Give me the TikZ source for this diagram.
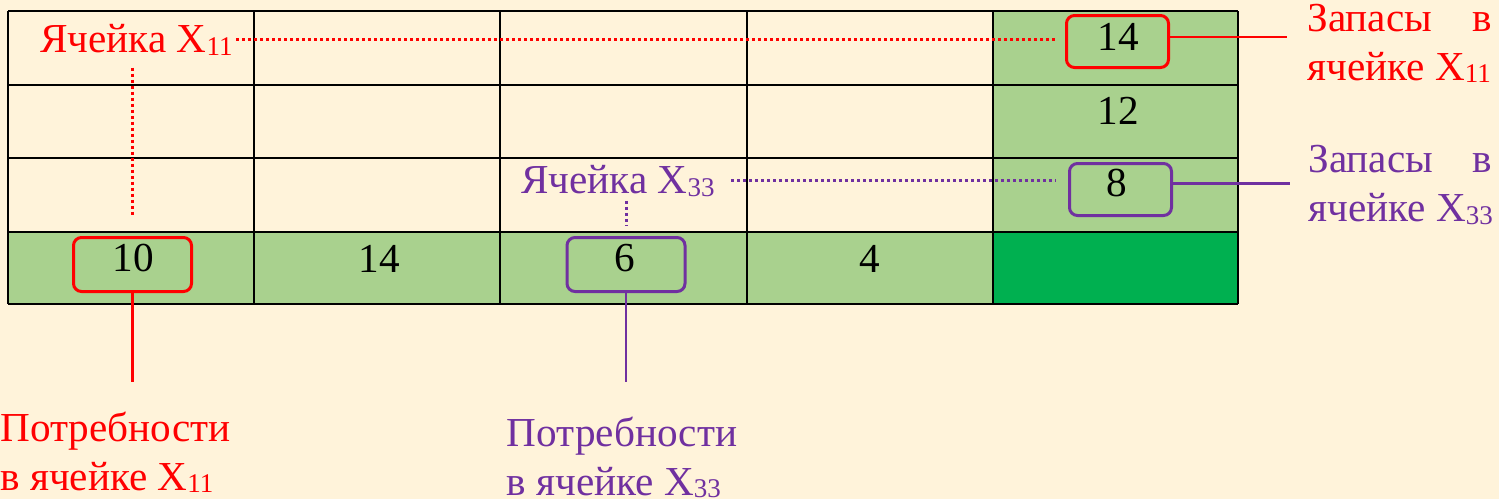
\documentclass[tikz,border=0pt]{standalone}
\usepackage{fontspec}
\setmainfont{Liberation Serif}
\usepackage{tikz}
\usetikzlibrary{positioning}

\definecolor{cream}{HTML}{FFF3DA}
\definecolor{lgreen}{HTML}{A9D18E}
\definecolor{dgreen}{HTML}{00B050}
\definecolor{purp}{HTML}{7030A0}

\newcommand\idx[1]{\raisebox{-1.4pt}{\fontsize{13.5pt}{14pt}\selectfont #1}}

\tikzset{
	txt/.style={font=\fontsize{20.6pt}{24.5pt}\selectfont, inner sep=0pt},
	rbox/.style={draw, line width=1.5pt, rounded corners=4pt, inner sep=0pt,
		minimum width=51pt, minimum height=26pt},
	bbox/.style={draw, line width=1.5pt, rounded corners=4pt, inner sep=0pt,
		minimum width=59pt, minimum height=27pt},
	dots/.style={line width=1.5pt, dash pattern=on 1.5pt off 1.5pt},
	lead/.style={line width=1.3pt},
	grid/.style={line width=0.7pt},
}

\begin{document}
\begin{tikzpicture}[x=0.5pt, y=-0.5pt]
		\useasboundingbox (0,0) rectangle (1499,499);
		\fill[cream] (0,0) rectangle (1499,499);

		% table
		\fill[lgreen] (993,11) rectangle (1238,232);
		\fill[lgreen] (8,232) rectangle (993,304);
		\fill[dgreen] (993,232) rectangle (1238,304);
		\foreach \x in {8,254,500,747,993,1238}
			\draw[grid] (\x,11) -- (\x,304);
		\foreach \y in {11,85,158,232,304}
			\draw[grid] (8,\y) -- (1238,\y);

		\node[txt, anchor=base] (s1) at (1118,50.7) {14};
		\node[txt, anchor=base] (s2) at (1118,124.3) {12};
		\node[txt, anchor=base] (s3) at (1117,196.7) {8};
		\node[txt, anchor=base] (d1) at (133.5,271.7) {10};
		\node[txt, anchor=base] (d2) at (379.5,272) {14};
		\node[txt, anchor=base] (d3) at (624.5,271.7) {6};
		\node[txt, anchor=base] (d4) at (870,272.5) {4};

		\node[rbox, red] (bs1) at (1117.5,41.5) {};
		\node[rbox, purp] (bs3) at (1120.5,189.5) {};
		\node[bbox, red] (bd1) at (132.5,264.5) {};
		\node[bbox, purp] (bd3) at (626,264.5) {};

		% labels (base = last line)
		\node[txt, red, anchor=base west] (c11) at (40,52.3) {Ячейка X\idx{11}};
		\node[txt, purp, anchor=base west] (c33) at (521,193.3) {Ячейка X\idx{33}};
		\node[txt, red, anchor=base west, align=left] (z11) at (1307,80)
			{\hbox to 92.5pt{Запасы\hfill в}\\ячейке X\idx{11}};
		\node[txt, purp, anchor=base west, align=left] (z33) at (1308,221.7)
			{\hbox to 92pt{Запасы\hfill в}\\ячейке X\idx{33}};
		\node[txt, red, anchor=base west, align=left] (p11) at (0,490)
			{Потребности\\в ячейке X\idx{11}};
		\node[txt, purp, anchor=base west, align=left] (p33) at (506.5,495)
			{Потребности\\в ячейке X\idx{33}};

		\coordinate (e11) at (1287,0);
		\coordinate (e33) at (1290,0);
		\coordinate (f11) at (0,382);
		\coordinate (f33) at (0,382);

		% connectors
		\draw[dots, red] ([xshift=1.5pt]c11.east) -- ([xshift=-5pt]bs1.west |- c11.east);
		\draw[dots, red] ([yshift=-6pt]bd1.north |- c11.south) -- ([yshift=10pt]bd1.north);
		\draw[dots, purp] ([xshift=8pt]c33.east) -- ([xshift=-6pt]bs3.west |- c33.east);
		\draw[dots, purp] ([yshift=-2pt]bd3.north |- c33.south) -- ([yshift=5.5pt]bd3.north);

		\draw[lead, red] (bs1.east |- s1.center) -- (e11 |- s1.center);
		\draw[lead, purp] (bs3.east |- s3.center) -- (e33 |- s3.center);
		\draw[lead, red] (bd1.south) -- (bd1.south |- f11);
		\draw[lead, purp] (bd3.south) -- (bd3.south |- f33);
\end{tikzpicture}
\end{document}
